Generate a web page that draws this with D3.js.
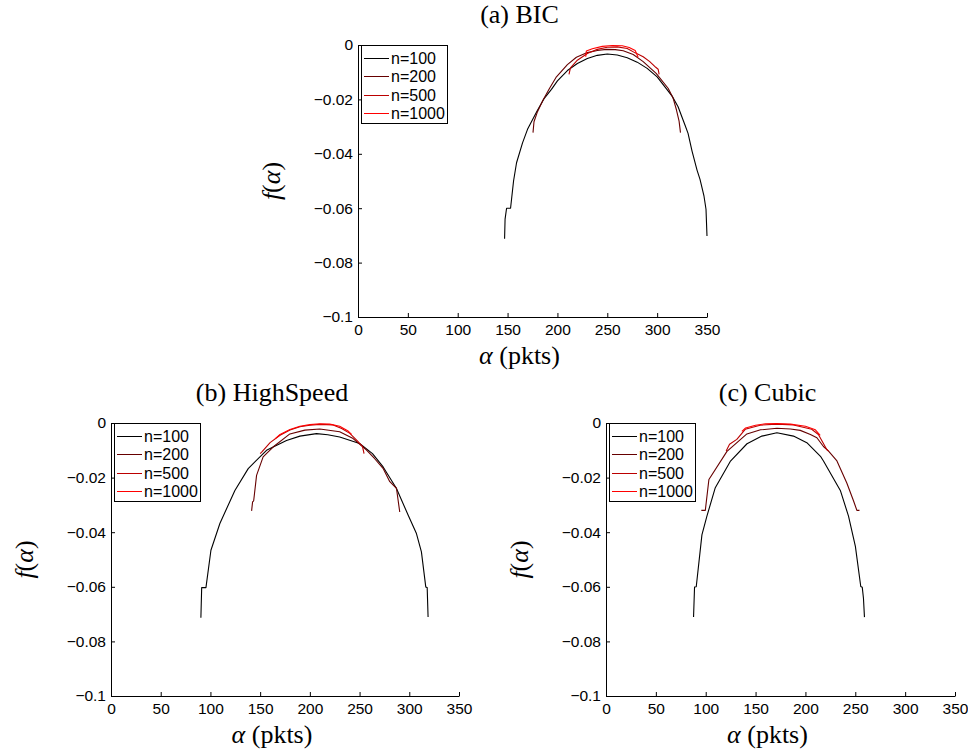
<!DOCTYPE html>
<html>
<head>
<meta charset="utf-8">
<script src="https://cdn.jsdelivr.net/npm/d3@7"></script>
<style>
  html, body { margin: 0; padding: 0; background: #fff; }
  svg { display: block; }
</style>
</head>
<body>
<svg id="chart" width="968" height="755"></svg>
<script>
// ---------------- DATA ----------------
const panelTitles = ["(a) BIC", "(b) HighSpeed", "(c) Cubic"];
const seriesNames = ["n=100", "n=200", "n=500", "n=1000"];
const xTicks = [0, 50, 100, 150, 200, 250, 300, 350];
const yTicks = [0, -0.02, -0.04, -0.06, -0.08, -0.1];
const yTickLabels = ["0", "\u22120.02", "\u22120.04", "\u22120.06", "\u22120.08", "\u22120.1"];

// (a) BIC
const bic100 = [[147,-0.0712],[147.5,-0.064],[149,-0.060],[153,-0.060],[156,-0.050],[159,-0.0433],[165,-0.036],[170,-0.031],[175,-0.0275],[180,-0.024],[187,-0.0195],[194,-0.0163],[200,-0.0132],[210,-0.0094],[220,-0.0068],[230,-0.005],[240,-0.0038],[250,-0.0033],[260,-0.0037],[270,-0.0047],[280,-0.0063],[290,-0.0086],[300,-0.0117],[308,-0.0155],[315,-0.0188],[321,-0.0227],[328,-0.0295],[331,-0.0325],[335,-0.039],[340,-0.046],[343,-0.0494],[347,-0.0556],[349,-0.0604],[350,-0.0702]];
const bic200 = [[175.5,-0.0322],[176.5,-0.0282],[180,-0.0245],[185.6,-0.0202],[192,-0.016],[199,-0.0117],[210,-0.0072],[219,-0.0045],[230,-0.0028],[240,-0.002],[249,-0.0016],[258,-0.0017],[266,-0.0021],[276,-0.0035],[286,-0.0061],[299,-0.0104],[311,-0.0159],[316,-0.0195],[319.4,-0.0239],[322,-0.028],[323.4,-0.0322]];
const bic500 = [[211.6,-0.0108],[213,-0.0085],[214,-0.008],[220,-0.0056],[230,-0.0031],[240,-0.0016],[250,-0.0008],[260,-0.0007],[270,-0.0013],[277.5,-0.0028],[286,-0.0043],[292.6,-0.0061],[298.6,-0.0082],[301,-0.0089],[302,-0.0108]];
const bic1000 = [[228.4,-0.0043],[229,-0.0022],[235,-0.0014],[245,-0.0005],[255,-0.0002],[265,-0.0003],[272,-0.0009],[278,-0.002],[280.9,-0.0045]];

// (b) HighSpeed
const hs100 = [[90.4,-0.0713],[91.2,-0.0603],[95.5,-0.0603],[100.5,-0.0466],[109.5,-0.0368],[124.6,-0.0247],[138,-0.0167],[156.4,-0.01],[176.5,-0.0064],[190,-0.0048],[206.7,-0.0039],[218,-0.0043],[230,-0.0051],[250,-0.0075],[263,-0.0112],[273.7,-0.0161],[287,-0.0239],[298.8,-0.0337],[307.2,-0.0405],[312.2,-0.0472],[316.6,-0.0601],[318,-0.0603],[318.9,-0.0711]];
const hs200 = [[141.4,-0.0322],[142.4,-0.0289],[143.5,-0.0285],[146.4,-0.0192],[153,-0.0124],[163,-0.0088],[179.9,-0.004],[195,-0.0026],[210,-0.0022],[230,-0.0032],[243.5,-0.0057],[257,-0.0099],[265,-0.013],[273.6,-0.0166],[280.4,-0.0215],[287.1,-0.0239],[290.4,-0.0326]];
const hs500 = [[150,-0.0112],[152,-0.0105],[160,-0.0072],[170,-0.0045],[180,-0.0026],[190,-0.0014],[200,-0.0008],[210,-0.0005],[223.4,-0.0007],[232,-0.002],[240.2,-0.0038],[248.5,-0.0068],[252.9,-0.0086],[254.5,-0.0112]];
const hs1000 = [[165,-0.0058],[170,-0.0042],[180,-0.0024],[190,-0.0012],[200,-0.0006],[210,-0.0003],[220,-0.0004],[230,-0.0012],[238,-0.0028],[242,-0.0042]];

// (c) Cubic
const cubic100 = [[87.8,-0.0711],[88.8,-0.0601],[90.5,-0.06],[96.2,-0.041],[101.2,-0.0341],[109.6,-0.0237],[124.6,-0.0141],[141.4,-0.0076],[156.3,-0.0048],[171.4,-0.0036],[188,-0.0048],[201.4,-0.0072],[215.1,-0.0122],[218.1,-0.0139],[235,-0.0247],[243.2,-0.0341],[250.1,-0.0452],[255.5,-0.0599],[257,-0.0602],[258.2,-0.0642],[259.2,-0.0711]];
const cubic200 = [[95.6,-0.032],[99.6,-0.032],[103.2,-0.0207],[121.3,-0.0104],[141.3,-0.004],[155,-0.0025],[171.4,-0.0019],[185,-0.0022],[194.8,-0.0027],[205,-0.0042],[211.5,-0.0054],[218.1,-0.0086],[223.2,-0.0103],[231.6,-0.0139],[241.5,-0.022],[248.2,-0.0285],[251.6,-0.032],[254.2,-0.032]];
const cubic500 = [[120.5,-0.0103],[123.9,-0.0078],[131.2,-0.006],[139.6,-0.0023],[154.6,-0.0008],[171.3,-0.0004],[188,-0.0007],[206.3,-0.0023],[213,-0.0042],[221.4,-0.0097],[223.2,-0.0103]];
const cubic1000 = [[136.3,-0.0031],[140,-0.0018],[150,-0.0008],[160,-0.0003],[171,-0.0002],[185,-0.0004],[200,-0.0012],[210,-0.0025],[214.8,-0.0045]];

// ---------------- STYLE / LAYOUT ----------------
const seriesColors = ["#000000", "#660000", "#bb0000", "#ff0000"];
const panelSeries = [
  [bic100, bic200, bic500, bic1000],
  [hs100, hs200, hs500, hs1000],
  [cubic100, cubic200, cubic500, cubic1000]
];
const panelBoxes = [
  {left: 358, right: 707, top: 45, bottom: 317},
  {left: 111, right: 459, top: 423, bottom: 696},
  {left: 606, right: 955, top: 423, bottom: 696}
];

const svg = d3.select("#chart");
const sansFont = "'Liberation Sans', Arial, Helvetica, sans-serif";
const serifFont = "'Liberation Serif', 'Times New Roman', Times, serif";

panelBoxes.forEach((b, pi) => {
  const x = d3.scaleLinear().domain([0, 350]).range([b.left, b.right]);
  const y = d3.scaleLinear().domain([-0.1, 0]).range([b.bottom, b.top]);
  const g = svg.append("g");

  // axes
  const xAxis = d3.axisBottom(x).tickValues(xTicks).tickFormat(d3.format("d"))
    .tickSizeInner(-4).tickSizeOuter(0).tickPadding(7);
  const yAxis = d3.axisLeft(y).tickValues(yTicks)
    .tickFormat((d, i) => yTickLabels[i])
    .tickSizeInner(-4).tickSizeOuter(0).tickPadding(5);

  const gx = g.append("g").attr("transform", `translate(0,${b.bottom})`).call(xAxis);
  const gy = g.append("g").attr("transform", `translate(${b.left},0)`).call(yAxis);
  [gx, gy].forEach(ax => {
    ax.selectAll("text").style("font-family", sansFont).style("font-size", "15.5px").attr("fill", "#000");
    ax.selectAll("line").attr("stroke", "#000");
    ax.select(".domain").attr("stroke", "#000");
  });

  // curves
  const line = d3.line().x(d => x(d[0])).y(d => y(d[1]));
  panelSeries[pi].forEach((s, si) => {
    g.append("path").datum(s)
      .attr("d", line)
      .attr("fill", "none")
      .attr("stroke", seriesColors[si])
      .attr("stroke-width", 1.1)
      .attr("stroke-linejoin", "round");
  });

  // title
  const cx = (b.left + b.right) / 2 - 13;
  g.append("text").attr("x", cx).attr("y", b.top - 22)
    .attr("text-anchor", "middle")
    .style("font-family", serifFont).style("font-size", "26px")
    .text(panelTitles[pi]);

  // x label
  const xl = g.append("text").attr("x", cx).attr("y", b.bottom + 47)
    .attr("text-anchor", "middle")
    .style("font-family", serifFont).style("font-size", "26px");
  xl.append("tspan").style("font-style", "italic").text("\u03b1");
  xl.append("tspan").text(" (pkts)");

  // y label
  const cy = (b.top + b.bottom) / 2;
  const yl = g.append("text")
    .attr("transform", `translate(${b.left - 78},${cy}) rotate(-90)`)
    .attr("text-anchor", "middle")
    .style("font-family", serifFont).style("font-size", "26px");
  yl.append("tspan").style("font-style", "italic").text("f");
  yl.append("tspan").text("(");
  yl.append("tspan").style("font-style", "italic").text("\u03b1");
  yl.append("tspan").text(")");

  // legend
  const lg = g.append("g");
  lg.append("rect")
    .attr("x", b.left + 3.5).attr("y", b.top + 0.5)
    .attr("width", 86).attr("height", 78)
    .attr("fill", "#fff").attr("stroke", "#000").attr("stroke-width", 1);
  seriesNames.forEach((name, i) => {
    const ry = Math.round(b.top + 13 + i * 18.3) + 0.5;
    lg.append("line")
      .attr("x1", b.left + 6).attr("x2", b.left + 31)
      .attr("y1", ry).attr("y2", ry)
      .attr("stroke", seriesColors[i]).attr("stroke-width", 1);
    lg.append("text")
      .attr("x", b.left + 33).attr("y", ry).attr("dy", "0.36em")
      .style("font-family", sansFont).style("font-size", "16px")
      .text(name);
  });
});
</script>
</body>
</html>
